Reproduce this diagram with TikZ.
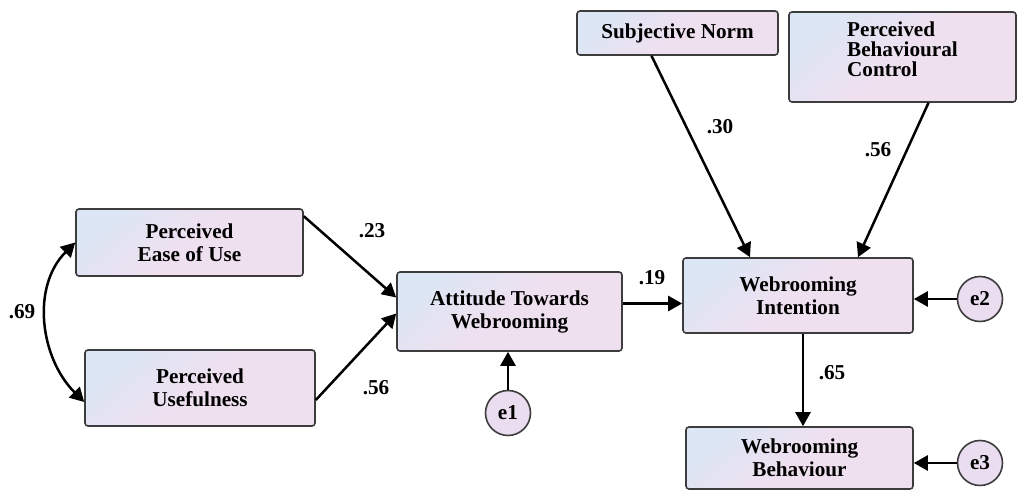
\documentclass[tikz,border=0pt]{standalone}
\usepackage{fontspec}
\setmainfont{Liberation Serif}
\usepackage{xcolor}
\usepackage{tikz}
\usetikzlibrary{arrows.meta}

\definecolor{boxblue}{HTML}{DCE6F4}
\definecolor{boxpink}{HTML}{EFE0F0}
\definecolor{errfill}{HTML}{EADDF0}
\definecolor{edgegray}{HTML}{3C3C3C}
\newcommand{\semfont}{\fontsize{10.6}{11.5}\selectfont\bfseries}

\begin{document}
\begin{tikzpicture}[x=0.5pt, y=0.5pt,
    box/.style={draw=edgegray, line width=0.8pt, rounded corners=1.5pt,
      top color=boxblue, bottom color=boxpink, middle color=boxpink, shading angle=40,
      align=center, inner sep=0pt, font=\semfont},
    errc/.style={circle, draw=edgegray, line width=0.8pt, fill=errfill,
      minimum size=22.5pt, inner sep=0pt, font=\semfont},
    arr/.style={-{Triangle[length=7pt,width=7.5pt]}, line width=1.25pt},
    cov/.style={{Triangle[length=7pt,width=7.5pt]}-{Triangle[length=7pt,width=7.5pt]}, line width=1.25pt},
    coef/.style={font=\semfont, inner sep=0pt}]
      \useasboundingbox (0,0) rectangle (1019,-491);

      % Observed variables
      \node[box, minimum width=113.5pt, minimum height=33.5pt] (peou) at (189.5,-242.5) {Perceived\\Ease of Use};
      \node[box, minimum width=115pt, minimum height=38pt] (pu) at (200,-388) {Perceived\\Usefulness};
      \node[box, minimum width=112.5pt, minimum height=39.5pt] (att) at (509.5,-311.5) {Attitude Towards\\Webrooming};
      \node[box, minimum width=100.5pt, minimum height=22pt] (sn) at (677.5,-33) {Subjective Norm};
      \node[box, minimum width=113.5pt, minimum height=45pt, align=left, text depth=8pt] (pbc) at (902.5,-57) {Perceived\\[-1.5pt]Behavioural\\[-1.5pt]Control};
      \node[box, minimum width=115pt, minimum height=37.5pt] (int) at (798,-295.5) {Webrooming\\Intention};
      \node[box, minimum width=113.5pt, minimum height=31pt] (beh) at (799.5,-458) {Webrooming\\Behaviour};

      % Error terms
      \node[errc] (e1) at (508,-413) {e1};
      \node[errc] (e2) at (980,-299) {e2};
      \node[errc] (e3) at (980,-463) {e3};

      % Paths
      \draw[cov] (peou.west) to[out=225, in=135] ([yshift=-7pt]pu.west);
      \draw[arr] ([yshift=-4pt]peou.north east) -- ([yshift=7pt]att.west);
      \draw[arr] ([yshift=-6pt]pu.east) -- ([yshift=-1pt]att.west);
      \draw[arr] (e1.north) -- (e1.north |- att.south);
      \draw[arr] ([yshift=4pt]att.east) -- ([yshift=4pt]att.east -| int.west);
      \draw[arr] ([xshift=-13pt]sn.south) -- ([xshift=-24pt]int.north);
      \draw[arr] ([xshift=13pt]pbc.south) -- ([xshift=30pt]int.north);
      \draw[arr] (e2.west) -- (e2.west -| int.east);
      \draw[arr] ([xshift=2.5pt]int.south) -- ([xshift=2.5pt]int.south |- beh.north);
      \draw[arr] (e3.west) -- (e3.west -| beh.east);

      % Estimates
      \node[coef] (r69) at (22,-312) {.69};
      \node[coef] (b23) at (372,-231) {.23};
      \node[coef] (b56a) at (376,-388) {.56};
      \node[coef] (b19) at (652,-278) {.19};
      \node[coef] (b30) at (720,-127) {.30};
      \node[coef] (b56b) at (878,-150) {.56};
      \node[coef] (b65) at (832,-373) {.65};
    \end{tikzpicture}
\end{document}
